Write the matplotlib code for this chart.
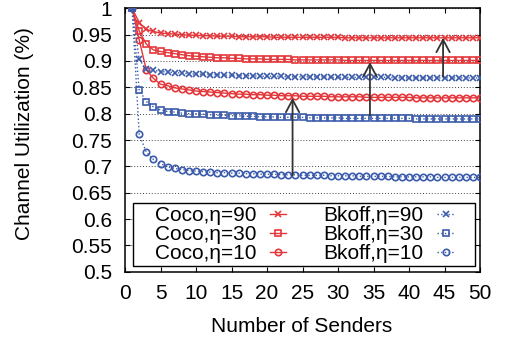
import numpy as np
import matplotlib
matplotlib.use("Agg")
import matplotlib.pyplot as plt
from matplotlib.patches import Rectangle
from matplotlib.ticker import FuncFormatter

plt.rcParams["font.family"] = ["Liberation Sans", "DejaVu Sans"]
plt.rcParams["font.size"] = 15

# ---- data ----
senders = np.arange(1, 51)

coco_90 = [1.000, 0.973, 0.960, 0.956, 0.953, 0.952, 0.951, 0.950, 0.949, 0.949,
           0.948, 0.948, 0.947, 0.947, 0.947, 0.946, 0.946, 0.946, 0.946, 0.946,
           0.945, 0.945, 0.945, 0.945, 0.945, 0.945, 0.945, 0.945, 0.945, 0.945,
           0.944, 0.944, 0.944, 0.944, 0.944, 0.944, 0.944, 0.944, 0.944, 0.944,
           0.944, 0.944, 0.944, 0.944, 0.944, 0.944, 0.944, 0.944, 0.944, 0.944]
coco_30 = [1.000, 0.957, 0.932, 0.921, 0.918, 0.916, 0.914, 0.912, 0.910, 0.909,
           0.908, 0.907, 0.906, 0.906, 0.905, 0.905, 0.904, 0.904, 0.904, 0.903,
           0.903, 0.903, 0.903, 0.902, 0.902, 0.902, 0.902, 0.902, 0.902, 0.902,
           0.901, 0.901, 0.901, 0.901, 0.901, 0.901, 0.901, 0.901, 0.901, 0.901,
           0.901, 0.901, 0.901, 0.901, 0.901, 0.901, 0.901, 0.901, 0.901, 0.901]
coco_10 = [1.000, 0.940, 0.883, 0.867, 0.856, 0.853, 0.849, 0.847, 0.845, 0.843,
           0.842, 0.841, 0.840, 0.839, 0.838, 0.837, 0.837, 0.836, 0.836, 0.835,
           0.835, 0.834, 0.834, 0.834, 0.833, 0.833, 0.833, 0.833, 0.832, 0.832,
           0.832, 0.832, 0.832, 0.831, 0.831, 0.831, 0.831, 0.831, 0.831, 0.831,
           0.830, 0.830, 0.830, 0.830, 0.830, 0.830, 0.830, 0.830, 0.830, 0.830]
bkoff_90 = [1.000, 0.903, 0.884, 0.882, 0.880, 0.879, 0.878, 0.877, 0.876, 0.875,
            0.875, 0.874, 0.874, 0.873, 0.873, 0.872, 0.872, 0.872, 0.871, 0.871,
            0.871, 0.871, 0.870, 0.870, 0.870, 0.870, 0.870, 0.870, 0.869, 0.869,
            0.869, 0.869, 0.869, 0.869, 0.869, 0.869, 0.869, 0.868, 0.868, 0.868,
            0.868, 0.868, 0.868, 0.868, 0.868, 0.868, 0.868, 0.868, 0.868, 0.868]
bkoff_30 = [1.000, 0.845, 0.823, 0.813, 0.807, 0.804, 0.803, 0.801, 0.800, 0.800,
            0.799, 0.798, 0.797, 0.797, 0.796, 0.796, 0.795, 0.795, 0.794, 0.794,
            0.794, 0.793, 0.793, 0.793, 0.793, 0.792, 0.792, 0.792, 0.792, 0.792,
            0.791, 0.791, 0.791, 0.791, 0.791, 0.791, 0.791, 0.791, 0.791, 0.791,
            0.790, 0.790, 0.790, 0.790, 0.790, 0.790, 0.790, 0.790, 0.790, 0.790]
bkoff_10 = [1.000, 0.761, 0.727, 0.713, 0.705, 0.699, 0.696, 0.694, 0.692, 0.691,
            0.690, 0.689, 0.688, 0.688, 0.687, 0.687, 0.686, 0.686, 0.685, 0.685,
            0.685, 0.684, 0.684, 0.684, 0.683, 0.683, 0.683, 0.683, 0.682, 0.682,
            0.682, 0.682, 0.681, 0.681, 0.681, 0.681, 0.681, 0.680, 0.680, 0.680,
            0.680, 0.680, 0.680, 0.679, 0.679, 0.679, 0.679, 0.679, 0.679, 0.679]

# arrows: (x, from, to) -- gain of Coco over backoff
arrow_x = [23.6, 34.5, 44.8]
arrow_from = [0.683, 0.797, 0.870]
arrow_to = [0.830, 0.898, 0.944]

RED = "#e4373b"
BLUE = "#3b5bab"

fig = plt.figure(figsize=(5.09, 3.39), dpi=100)
ax = fig.add_axes([125 / 509, 1 - 271.7 / 339, 355 / 509, 263.4 / 339])

series = [
    (coco_90, "Coco,η=90", RED, "-", "x", "full"),
    (coco_30, "Coco,η=30", RED, "-", "s", "none"),
    (coco_10, "Coco,η=10", RED, "-", "o", "none"),
    (bkoff_90, "Bkoff,η=90", BLUE, ":", "x", "full"),
    (bkoff_30, "Bkoff,η=30", BLUE, ":", "s", "none"),
    (bkoff_10, "Bkoff,η=10", BLUE, ":", "o", "none"),
]
for vals, lab, col, ls, mk, fill in series:
    ax.plot(senders, vals, ls=ls, color=col, lw=1.0, marker=mk, ms=4.6,
            mew=1.2, fillstyle=fill, label=lab, zorder=3)

for x, y0, y1 in zip(arrow_x, arrow_from, arrow_to):
    ax.annotate("", xy=(x, y1), xytext=(x, y0),
                arrowprops=dict(arrowstyle="->,head_length=0.9,head_width=0.48",
                                mutation_scale=10, color="#333333", lw=1.3,
                                shrinkA=0, shrinkB=0), zorder=4)

ax.set_xlim(0, 50)
ax.set_ylim(0.5, 1.0)
ax.set_xticks(np.arange(0, 51, 5))
ax.set_yticks(np.arange(0.5, 1.001, 0.05))
ax.yaxis.set_major_formatter(FuncFormatter(lambda v, p: "%g" % round(v, 2)))
ax.tick_params(direction="in", length=3.6, width=0.8, top=True, right=True)
ax.tick_params(axis="y", pad=9.5)
ax.tick_params(axis="x", pad=9)
ax.grid(axis="y", ls=(0, (1, 2)), color="#444444", lw=0.7)
ax.set_axisbelow(True)
for s in ax.spines.values():
    s.set_linewidth(1.1)

# legend frame drawn by hand (gnuplot-style box)
ax.add_patch(Rectangle((0.0225, 0.0216), 0.9635, 0.2404, transform=ax.transAxes,
                       facecolor="white", edgecolor="black", lw=1.0, zorder=5))
leg = ax.legend(ncol=2, loc="center", bbox_to_anchor=(0.505, 0.142),
                frameon=False, markerfirst=False, handlelength=0.8,
                handletextpad=0.65, columnspacing=1.8, labelspacing=0.0,
                borderpad=0.0, fontsize=15)
leg.set_zorder(6)

fig.text(302 / 509, 1 - 326 / 339, "Number of Senders", ha="center", va="center")
fig.text(25 / 509, 1 - 133.5 / 339, "Channel Utilization (%)", rotation=90,
         ha="center", va="center")

fig.savefig("out.png", dpi=100)
